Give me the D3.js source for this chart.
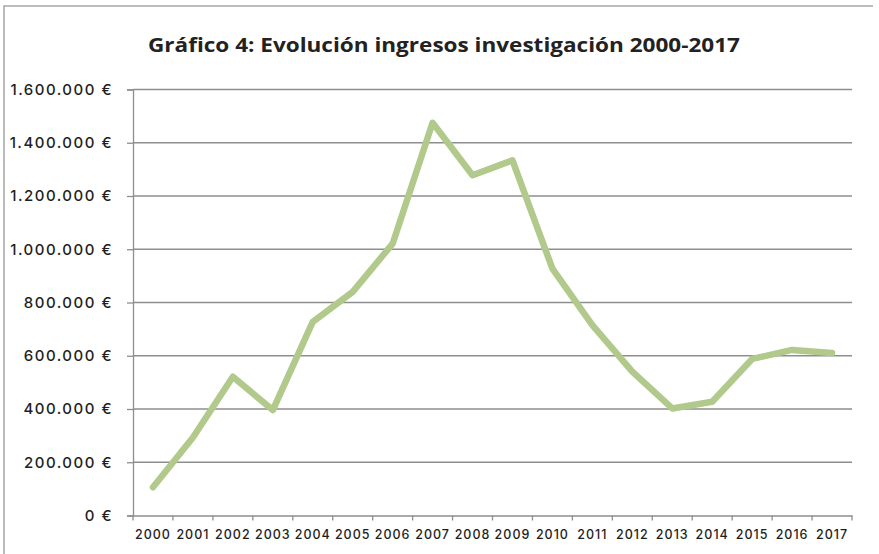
<!DOCTYPE html>
<html>
<head>
<meta charset="utf-8">
<script src="https://cdn.jsdelivr.net/npm/d3@7"></script>
<style>
  body { margin: 0; background: #fff; }
  svg { display: block; }
</style>
</head>
<body>
<script>
// data
var years = ["2000","2001","2002","2003","2004","2005","2006","2007","2008","2009",
             "2010","2011","2012","2013","2014","2015","2016","2017"];
var ingresos = [106000, 293000, 521000, 396000, 727000, 840000, 1021000, 1475000, 1278000, 1334000,
                927000, 715000, 540000, 402000, 427000, 588000, 622000, 610000];
var yTicks = [0, 200000, 400000, 600000, 800000, 1000000, 1200000, 1400000, 1600000];
var titulo = "Gráfico 4: Evolución ingresos investigación 2000-2017";

function init(){
    var w = 879;
    var h = 554;
    var left = 133, right = 852, top = 89.5, bottom = 515.5;

    var svg = d3.select("body")
                .append("svg")
                .attr("width", w)
                .attr("height", h);

    //outer frame (only top and left visible)
    svg.append("path")
        .attr("d", "M4,560 L4,6 L873,6")
        .attr("fill", "none")
        .attr("stroke", "#a6a6a6")
        .attr("stroke-width", 1.5);

    svg.append("text")
        .attr("x", 444)
        .attr("y", 52)
        .attr("text-anchor", "middle")
        .attr("font-family", "'Open Sans', sans-serif")
        .attr("font-weight", "bold")
        .attr("font-size", 20)
        .attr("fill", "#222")
        .attr("textLength", 592)
        .attr("lengthAdjust", "spacingAndGlyphs")
        .text(titulo);

    var x = d3.scaleBand()
                .domain(years)
                .range([left, right]);

    var y = d3.scaleLinear()
                .domain([0, 1600000])
                .range([bottom, top]);

    var fmt = function(d){
        return d3.format(",")(d).replace(/,/g, ".") + " €";
    };

    //gridlines
    svg.append("g")
        .selectAll("line")
        .data(yTicks.filter(function(d){ return d > 0; }))
        .enter()
        .append("line")
        .attr("x1", left)
        .attr("x2", right)
        .attr("y1", function(d){ return y(d); })
        .attr("y2", function(d){ return y(d); })
        .attr("stroke", "#8e8e8e")
        .attr("stroke-width", 1.3);

    //y axis
    var yAxis = svg.append("g")
        .attr("transform", "translate(" + left + ",0)")
        .call(d3.axisLeft(y).tickValues(yTicks).tickFormat(fmt).tickSize(6).tickPadding(14));

    //x axis
    var xAxis = svg.append("g")
        .attr("transform", "translate(0," + bottom + ")")
        .call(d3.axisBottom(x).tickSize(0).tickPadding(15));

    //x ticks between categories
    xAxis.append("g")
        .selectAll("line")
        .data(d3.range(years.length + 1))
        .enter()
        .append("line")
        .attr("x1", function(i){ return left + i * x.step(); })
        .attr("x2", function(i){ return left + i * x.step(); })
        .attr("y1", 0)
        .attr("y2", 5)
        .attr("stroke", "#8e8e8e")
        .attr("stroke-width", 1.3);

    [yAxis, xAxis].forEach(function(a){
        a.select(".domain").attr("stroke", "#8e8e8e").attr("stroke-width", 1.3);
        a.selectAll(".tick line").attr("stroke", "#8e8e8e").attr("stroke-width", 1.3);
        a.selectAll("text")
            .attr("font-family", "Inter, sans-serif")
            .attr("font-weight", 500)
            .attr("fill", "#1e1e1e");
    });
    yAxis.selectAll("text")
        .attr("font-size", 15)
        .attr("letter-spacing", 1.5);
    xAxis.selectAll("text")
        .attr("font-size", 12.5)
        .attr("letter-spacing", 1);

    //line
    var line = d3.line()
        .x(function(d, i){ return x(years[i]) + x.bandwidth() / 2; })
        .y(function(d){ return y(d); });

    svg.append("path")
        .datum(ingresos)
        .attr("d", line)
        .attr("fill", "none")
        .attr("stroke", "#b1c98b")
        .attr("stroke-width", 6.5)
        .attr("stroke-linejoin", "round")
        .attr("stroke-linecap", "round");
}
window.onload = init;
</script>
</body>
</html>
